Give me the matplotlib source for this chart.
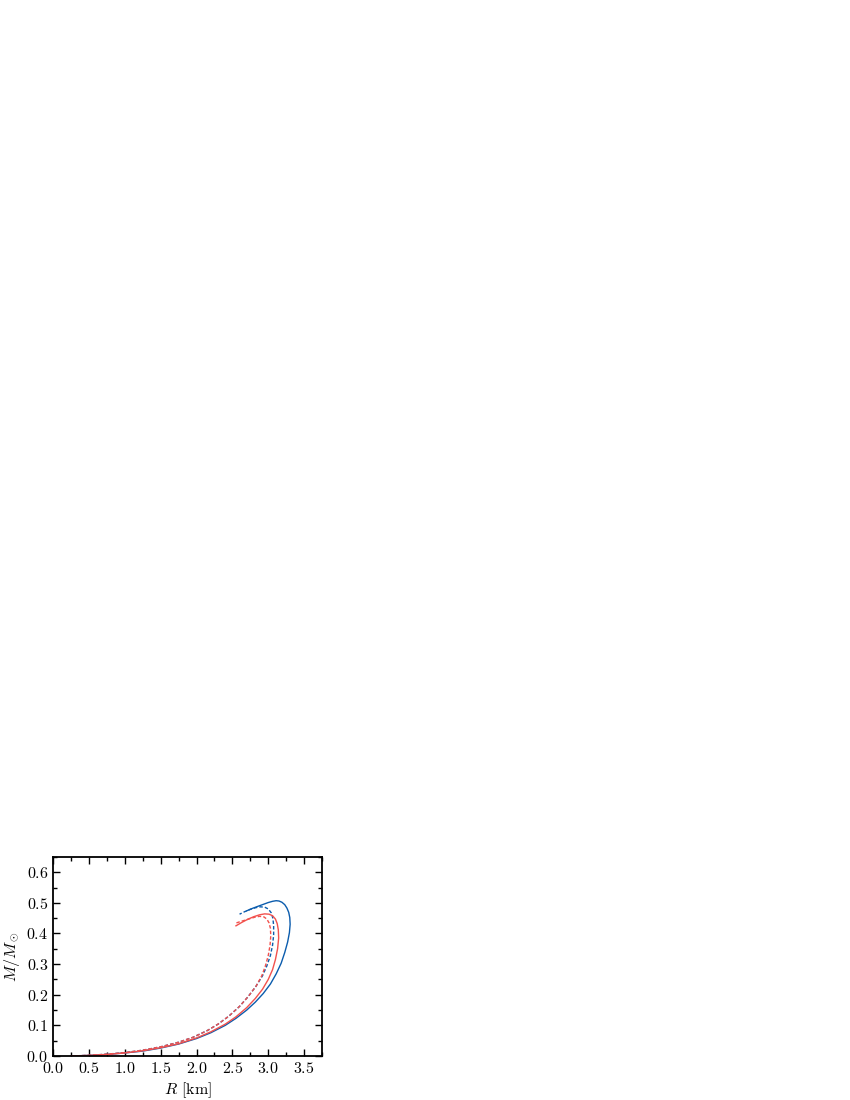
import matplotlib
matplotlib.use("Agg")
import matplotlib.pyplot as plt
from matplotlib.ticker import MultipleLocator

plt.rcParams['font.family'] = 'cmr10'
plt.rcParams['mathtext.fontset'] = 'cm'
plt.rcParams['axes.formatter.use_mathtext'] = True

# mass-radius curves
r_blue_solid = [0.25, 0.5, 0.75, 1.0, 1.25, 1.5, 1.75, 2.0, 2.2, 2.4, 2.55, 2.7, 2.82, 2.93,
                3.03, 3.11, 3.18, 3.23, 3.27, 3.295, 3.305, 3.30, 3.285, 3.26, 3.23, 3.19,
                3.15, 3.11, 3.06, 3.0, 2.93, 2.86, 2.78, 2.70]
m_blue_solid = [0.0, 0.002, 0.005, 0.010, 0.016, 0.026, 0.039, 0.057, 0.076, 0.100, 0.123,
                0.150, 0.176, 0.204, 0.235, 0.268, 0.303, 0.338, 0.372, 0.403, 0.430, 0.452,
                0.469, 0.483, 0.494, 0.502, 0.506, 0.507, 0.505, 0.501, 0.495, 0.489,
                0.482, 0.474]

r_red_solid = [0.25, 0.5, 0.75, 1.0, 1.25, 1.5, 1.75, 2.0, 2.2, 2.4, 2.55, 2.7, 2.82, 2.92,
               3.0, 3.06, 3.1, 3.13, 3.145, 3.14, 3.125, 3.10, 3.06, 3.01, 2.95, 2.88, 2.80,
               2.72, 2.63, 2.55]
m_red_solid = [0.0, 0.002, 0.005, 0.010, 0.017, 0.027, 0.040, 0.059, 0.079, 0.104, 0.128,
               0.158, 0.188, 0.218, 0.250, 0.282, 0.315, 0.350, 0.385, 0.412, 0.432, 0.447,
               0.458, 0.463, 0.464, 0.461, 0.455, 0.447, 0.436, 0.425]

r_blue_dash = [0.25, 0.5, 0.75, 1.0, 1.25, 1.5, 1.75, 1.95, 2.15, 2.3, 2.45, 2.6, 2.72, 2.83,
               2.92, 2.98, 3.03, 3.06, 3.075, 3.075, 3.065, 3.04, 3.0, 2.95, 2.89, 2.82, 2.74,
               2.67, 2.6]
m_blue_dash = [0.0, 0.002, 0.006, 0.011, 0.019, 0.030, 0.045, 0.061, 0.083, 0.104, 0.130,
               0.162, 0.194, 0.228, 0.262, 0.294, 0.328, 0.362, 0.395, 0.425, 0.449, 0.468,
               0.480, 0.486, 0.487, 0.484, 0.478, 0.471, 0.463]

r_red_dash = [0.25, 0.5, 0.75, 1.0, 1.25, 1.5, 1.75, 1.95, 2.15, 2.3, 2.45, 2.6, 2.72, 2.83,
              2.91, 2.96, 3.0, 3.025, 3.035, 3.03, 3.01, 2.98, 2.94, 2.88, 2.81, 2.74, 2.67,
              2.6, 2.55]
m_red_dash = [0.0, 0.002, 0.006, 0.011, 0.019, 0.030, 0.045, 0.061, 0.083, 0.104, 0.130,
              0.162, 0.194, 0.228, 0.262, 0.294, 0.328, 0.362, 0.392, 0.417, 0.435, 0.447,
              0.454, 0.456, 0.453, 0.448, 0.443, 0.438, 0.434]

blue = '#0b5cad'
red = '#f2514d'

fig = plt.figure(figsize=(8.5, 11), dpi=100)
ax = fig.add_axes([0.0624, 0.04, 0.3165, 0.181])

ax.plot(r_blue_solid, m_blue_solid, color=blue, lw=1.0)
ax.plot(r_blue_dash, m_blue_dash, color=blue, lw=1.0, ls=(0, (2.5, 1.5)))
ax.plot(r_red_solid, m_red_solid, color=red, lw=1.0)
ax.plot(r_red_dash, m_red_dash, color=red, lw=1.0, ls=(0, (2.5, 1.5)))

ax.set_xlim(0, 3.75)
ax.set_ylim(0, 0.65)
ax.xaxis.set_major_locator(MultipleLocator(0.5))
ax.xaxis.set_minor_locator(MultipleLocator(0.25))
ax.yaxis.set_major_locator(MultipleLocator(0.1))
ax.yaxis.set_minor_locator(MultipleLocator(0.05))
ax.tick_params(which='both', direction='in', top=True, right=True, labelsize=11.5)
ax.tick_params(which='major', length=5, width=1.0)
ax.tick_params(which='minor', length=3, width=1.0)
for s in ax.spines.values():
    s.set_linewidth(1.3)

ax.set_xlabel(r'$R$ [km]', fontsize=11.5, labelpad=3)
ax.set_ylabel(r'$M/M_\odot$', fontsize=11.5, labelpad=3)

fig.savefig('out.png', dpi=100)
